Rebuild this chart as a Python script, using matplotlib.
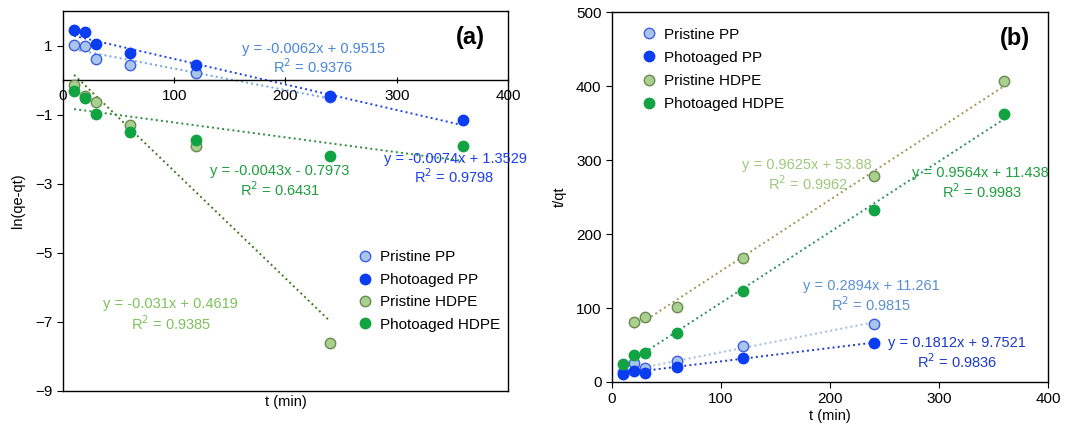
import matplotlib
matplotlib.use('Agg')
from matplotlib import pyplot as plt

plt.rcParams['font.family'] = ['Liberation Sans', 'DejaVu Sans']
plt.rcParams['font.size'] = 10.5

series = ['Pristine PP', 'Photoaged PP', 'Pristine HDPE', 'Photoaged HDPE']

# panel (a) : ln(qe-qt) vs t
t_a_ppp = [10, 20, 30, 60, 120, 240]
y_a_ppp = [1.02, 1.0, 0.62, 0.44, 0.21, -0.5]
t_a_app = [10, 20, 30, 60, 120, 240, 360]
y_a_app = [1.46, 1.39, 1.03, 0.77, 0.45, -0.47, -1.17]
t_a_phd = [10, 20, 30, 60, 120, 240]
y_a_phd = [-0.14, -0.46, -0.63, -1.30, -1.91, -7.6]
t_a_ahd = [10, 20, 30, 60, 120, 240, 360]
y_a_ahd = [-0.32, -0.51, -0.97, -1.51, -1.74, -2.20, -1.91]

# fits (slope, intercept, r2)
fit_a = [(-0.0062, 0.9515, 0.9376), (-0.0074, 1.3529, 0.9798),
         (-0.031, 0.4619, 0.9385), (-0.0043, -0.7973, 0.6431)]

# panel (b) : t/qt vs t
t_b_ppp = [10, 20, 30, 60, 120, 240]
y_b_ppp = [14, 25, 19, 29, 49, 79]
t_b_app = [10, 20, 30, 60, 120, 240]
y_b_app = [10.8, 15, 11.7, 19.8, 32.8, 52.3]
t_b_phd = [20, 30, 60, 120, 240, 360]
y_b_phd = [81.5, 87.4, 101.8, 167, 278, 407]
t_b_ahd = [10, 20, 30, 60, 120, 240, 360]
y_b_ahd = [23.9, 36.5, 39.6, 65.7, 123.4, 233, 363]

fit_b = [(0.2894, 11.261, 0.9815), (0.1812, 9.7521, 0.9836),
         (0.9625, 53.88, 0.9962), (0.9564, 11.438, 0.9983)]

face = ['#a9c6ea', '#0a3cf0', '#a9d08e', '#12a443']
edge = ['#3b5ee8', '#0a3cf0', '#6a8a50', '#12a443']
line_a = ['#6fa6e6', '#1a3ff0', '#3f7a22', '#2b8f3a']
line_b = ['#a0bde0', '#1a3ac8', '#9a9a55', '#2e8f60']
txt_col = ['#4a86d8', '#1a3ff0', '#7cc35a', '#1f9e3e']

fs_eq = 10.5

fig = plt.figure(figsize=(10.69, 4.29), dpi=100)

# ---------- (a)
ax = fig.add_axes([0.0589, 0.0886, 0.4163, 0.8858])
data_a = [(t_a_ppp, y_a_ppp), (t_a_app, y_a_app), (t_a_phd, y_a_phd), (t_a_ahd, y_a_ahd)]
for i in range(4):
	t, y = data_a[i]
	ax.plot(t, y, 'o', ms=7.5, mfc=face[i], mec=edge[i], mew=1.0, label=series[i], zorder=3)
for i in range(4):
	t = data_a[i][0]
	k, b, r2 = fit_a[i]
	x0, x1 = t[0], t[-1]
	ax.plot([x0, x1], [k*x0+b, k*x1+b], ':', color=line_a[i], lw=1.4, zorder=2)

ax.set_xlim(0, 400)
ax.set_ylim(-9, 2)
ax.set_yticks([1, -1, -3, -5, -7, -9])
ax.set_xticks([0, 100, 200, 300, 400])
ax.spines['bottom'].set_position(('data', 0))
ax.plot([0, 1], [0, 0], transform=ax.transAxes, color='black', lw=1.0, clip_on=False)
for s in ax.spines.values():
	s.set_linewidth(1.0)
ax.tick_params(axis='x', direction='inout', length=5, pad=4, labelsize=11)
ax.tick_params(axis='y', direction='out', length=4, labelsize=11)
ax.set_ylabel('ln(qe-qt)', fontsize=10.5, labelpad=7)
ax.text(0.5, -0.028, 't (min)', transform=ax.transAxes, ha='center', va='center', fontsize=10.5)

ax.text(225, 0.90, 'y = %.4fx + %.4f' % (fit_a[0][0], fit_a[0][1]), color=txt_col[0], ha='center', va='center', fontsize=fs_eq)
ax.text(225, 0.38, 'R$^2$ = %.4f' % fit_a[0][2], color=txt_col[0], ha='center', va='center', fontsize=fs_eq)
ax.text(289, -2.29, 'y = %.4fx + %.4f' % (fit_a[1][0], fit_a[1][1]), color=txt_col[1], ha='left', va='center', fontsize=fs_eq, clip_on=False)
ax.text(352, -2.81, 'R$^2$ = %.4f' % fit_a[1][2], color=txt_col[1], ha='center', va='center', fontsize=fs_eq)
ax.text(195, -2.64, 'y = %.4fx - %.4f' % (fit_a[3][0], -fit_a[3][1]), color=txt_col[3], ha='center', va='center', fontsize=fs_eq)
ax.text(195, -3.16, 'R$^2$ = %.4f' % fit_a[3][2], color=txt_col[3], ha='center', va='center', fontsize=fs_eq)
ax.text(97, -6.49, 'y = %.3fx + %.4f' % (fit_a[2][0], fit_a[2][1]), color=txt_col[2], ha='center', va='center', fontsize=fs_eq)
ax.text(97, -7.04, 'R$^2$ = %.4f' % fit_a[2][2], color=txt_col[2], ha='center', va='center', fontsize=fs_eq)
ax.text(0.915, 0.93, '(a)', transform=ax.transAxes, ha='center', va='center', fontsize=17, fontweight='bold')
ax.legend(loc='lower left', bbox_to_anchor=(0.63, 0.14), frameon=False, handletextpad=0.0,
	labelspacing=0.55, fontsize=11, borderaxespad=0)

# ---------- (b)
ax = fig.add_axes([0.5725, 0.1096, 0.4079, 0.862])
data_b = [(t_b_ppp, y_b_ppp), (t_b_app, y_b_app), (t_b_phd, y_b_phd), (t_b_ahd, y_b_ahd)]
for i in range(4):
	t, y = data_b[i]
	ax.plot(t, y, 'o', ms=7.5, mfc=face[i], mec=edge[i], mew=1.0, label=series[i], zorder=3)
for i in range(4):
	t = data_b[i][0]
	k, b, r2 = fit_b[i]
	x0, x1 = t[0], t[-1]
	ax.plot([x0, x1], [k*x0+b, k*x1+b], ':', color=line_b[i], lw=1.4, zorder=2)

ax.set_xlim(0, 400)
ax.set_ylim(0, 500)
ax.set_xticks([0, 100, 200, 300, 400])
ax.set_yticks([0, 100, 200, 300, 400, 500])
for s in ax.spines.values():
	s.set_linewidth(1.0)
ax.tick_params(direction='out', length=4, labelsize=11)
ax.set_xlabel('t (min)', fontsize=10.5, labelpad=2)
ax.set_ylabel('t/qt', fontsize=10.5, labelpad=7)

ax.text(179, 293, 'y = %.4fx + %.2f' % (fit_b[2][0], fit_b[2][1]), color='#9dc97c', ha='center', va='center', fontsize=fs_eq)
ax.text(180, 268, 'R$^2$ = %.4f' % fit_b[2][2], color='#9dc97c', ha='center', va='center', fontsize=fs_eq)
ax.text(338, 282, 'y = %.4fx + %.3f' % (fit_b[3][0], fit_b[3][1]), color=txt_col[3], ha='center', va='center', fontsize=fs_eq)
ax.text(340, 257, 'R$^2$ = %.4f' % fit_b[3][2], color=txt_col[3], ha='center', va='center', fontsize=fs_eq)
ax.text(238, 130, 'y = %.4fx + %.3f' % (fit_b[0][0], fit_b[0][1]), color='#5b8fd0', ha='center', va='center', fontsize=fs_eq)
ax.text(238, 105, 'R$^2$ = %.4f' % fit_b[0][2], color='#5b8fd0', ha='center', va='center', fontsize=fs_eq)
ax.text(316, 53, 'y = %.4fx + %.4f' % (fit_b[1][0], fit_b[1][1]), color='#1a3ac8', ha='center', va='center', fontsize=fs_eq)
ax.text(317, 27, 'R$^2$ = %.4f' % fit_b[1][2], color='#1a3ac8', ha='center', va='center', fontsize=fs_eq)
ax.text(0.925, 0.93, '(b)', transform=ax.transAxes, ha='center', va='center', fontsize=17, fontweight='bold')
ax.legend(loc='upper left', bbox_to_anchor=(0.035, 0.975), frameon=False, handletextpad=0.0,
	labelspacing=0.6, fontsize=11, borderaxespad=0)

plt.savefig('out.png', dpi=100)
